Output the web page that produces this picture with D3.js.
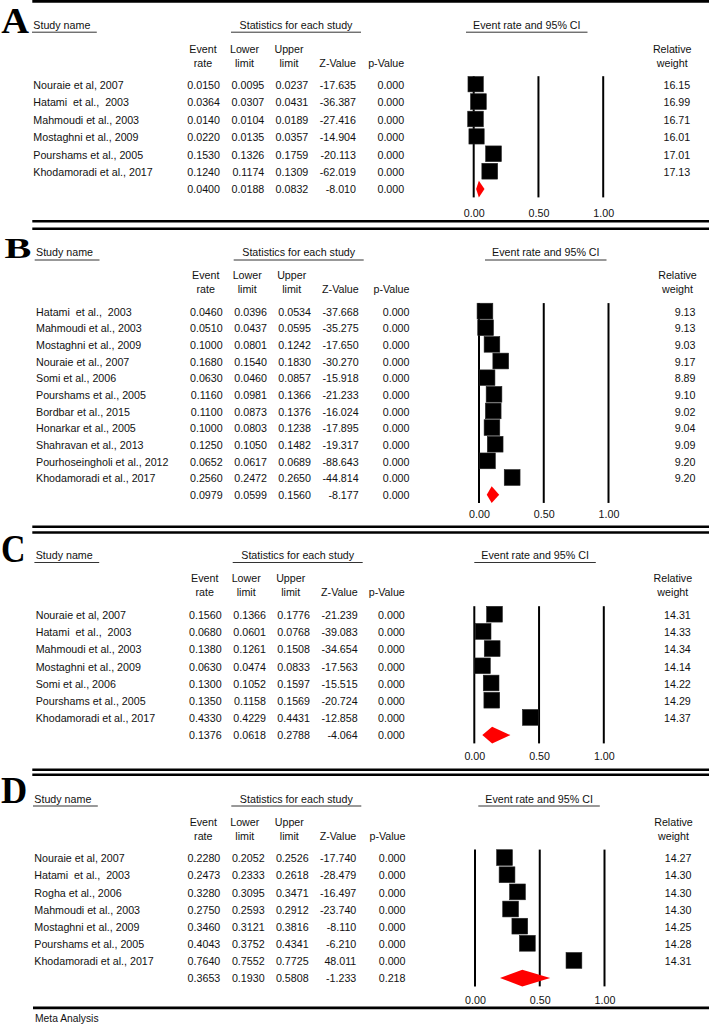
<!DOCTYPE html>
<html><head><meta charset="utf-8">
<script src="https://cdn.jsdelivr.net/npm/d3@7"></script>
<style>
html,body{margin:0;padding:0;background:#fff;}
svg{display:block;}
text{font-family:"Liberation Sans",Arial,sans-serif;font-size:10.7px;fill:#111;white-space:pre;}
</style></head>
<body>
<svg id="chart" width="709" height="1026"></svg>
<script>
// ---------- DATA ----------
const panelLetters = ["A","B","C","D"];
const headerLabels = ["Study name","Statistics for each study","Event rate and 95% CI"];
const colHeaders1 = ["Event","Lower","Upper","",""];
const colHeaders2 = ["rate","limit","limit","Z-Value","p-Value"];
const weightHeader = ["Relative","weight"];
const axisTicks = [0, 0.5, 1.0];
const footerLabel = "Meta Analysis";

const studiesA = ["Nouraie et al, 2007","Hatami  et al.,  2003","Mahmoudi et al., 2003","Mostaghni et al., 2009","Pourshams et al., 2005","Khodamoradi et al., 2017"];
const eventA  = [0.0150,0.0364,0.0140,0.0220,0.1530,0.1240];
const lowerA  = [0.0095,0.0307,0.0104,0.0135,0.1326,0.1174];
const upperA  = [0.0237,0.0431,0.0189,0.0357,0.1759,0.1309];
const zA      = [-17.635,-36.387,-27.416,-14.904,-20.113,-62.019];
const pA      = [0,0,0,0,0,0];
const weightA = [16.15,16.99,16.71,16.01,17.01,17.13];
const summaryA = [0.0400,0.0188,0.0832,-8.010,0.000];

const studiesB = ["Hatami  et al.,  2003","Mahmoudi et al., 2003","Mostaghni et al., 2009","Nouraie et al., 2007","Somi et al., 2006","Pourshams et al., 2005","Bordbar et al., 2015","Honarkar et al., 2005","Shahravan et al., 2013","Pourhoseingholi et al., 2012","Khodamoradi et al., 2017"];
const eventB  = [0.0460,0.0510,0.1000,0.1680,0.0630,0.1160,0.1100,0.1000,0.1250,0.0652,0.2560];
const lowerB  = [0.0396,0.0437,0.0801,0.1540,0.0460,0.0981,0.0873,0.0803,0.1050,0.0617,0.2472];
const upperB  = [0.0534,0.0595,0.1242,0.1830,0.0857,0.1366,0.1376,0.1238,0.1482,0.0689,0.2650];
const zB      = [-37.668,-35.275,-17.650,-30.270,-15.918,-21.233,-16.024,-17.895,-19.317,-88.643,-44.814];
const pB      = [0,0,0,0,0,0,0,0,0,0,0];
const weightB = [9.13,9.13,9.03,9.17,8.89,9.10,9.02,9.04,9.09,9.20,9.20];
const summaryB = [0.0979,0.0599,0.1560,-8.177,0.000];

const studiesC = ["Nouraie et al, 2007","Hatami  et al.,  2003","Mahmoudi et al., 2003","Mostaghni et al., 2009","Somi et al., 2006","Pourshams et al., 2005","Khodamoradi et al., 2017"];
const eventC  = [0.1560,0.0680,0.1380,0.0630,0.1300,0.1350,0.4330];
const lowerC  = [0.1366,0.0601,0.1261,0.0474,0.1052,0.1158,0.4229];
const upperC  = [0.1776,0.0768,0.1508,0.0833,0.1597,0.1569,0.4431];
const zC      = [-21.239,-39.083,-34.654,-17.563,-15.515,-20.724,-12.858];
const pC      = [0,0,0,0,0,0,0];
const weightC = [14.31,14.33,14.34,14.14,14.22,14.29,14.37];
const summaryC = [0.1376,0.0618,0.2788,-4.064,0.000];

const studiesD = ["Nouraie et al, 2007","Hatami  et al.,  2003","Rogha et al., 2006","Mahmoudi et al., 2003","Mostaghni et al., 2009","Pourshams et al., 2005","Khodamoradi et al., 2017"];
const eventD  = [0.2280,0.2473,0.3280,0.2750,0.3460,0.4043,0.7640];
const lowerD  = [0.2052,0.2333,0.3095,0.2593,0.3121,0.3752,0.7552];
const upperD  = [0.2526,0.2618,0.3471,0.2912,0.3816,0.4341,0.7725];
const zD      = [-17.740,-28.479,-16.497,-23.740,-8.110,-6.210,48.011];
const pD      = [0,0,0,0,0,0,0];
const weightD = [14.27,14.30,14.30,14.30,14.25,14.28,14.31];
const summaryD = [0.3653,0.1930,0.5808,-1.233,0.218];

// ---------- LAYOUT ----------
const panels = [
  {letter:panelLetters[0], studies:studiesA, ev:eventA, lo:lowerA, up:upperA, z:zA, p:pA, w:weightA, sum:summaryA,
   lines:[[1.4,2.8]], letterX:1.2, letterBase:32.6, letterSize:36.3, letterSX:1.06,
   titleBase:28.8, ulY:32.2, h1:53, h2:66.6, row0:85, step:17.4, axisBase:216.7,
   nameX:33.3, evR:220, zero:473.7, eciX:466},
  {letter:panelLetters[1], studies:studiesB, ev:eventB, lo:lowerB, up:upperB, z:zB, p:pB, w:weightB, sum:summaryB,
   lines:[[221.3,2.6],[228.7,2.6]], letterX:4.5, letterBase:258.3, letterSize:30.5, letterSX:1.32,
   titleBase:256, ulY:260, h1:279, h2:293.3, row0:311.9, step:16.64, axisBase:518.3,
   nameX:36, evR:222.7, zero:479, eciX:485},
  {letter:panelLetters[2], studies:studiesC, ev:eventC, lo:lowerC, up:upperC, z:zC, p:pC, w:weightC, sum:summaryC,
   lines:[[526.7,2.6],[532.5,2.6]], letterX:1.0, letterBase:562.3, letterSize:39.5, letterSX:0.86,
   titleBase:559.2, ulY:562.5, h1:581.7, h2:596, row0:615, step:17.2, axisBase:760,
   nameX:35.7, evR:221.7, zero:474.3, eciX:474.3},
  {letter:panelLetters[3], studies:studiesD, ev:eventD, lo:lowerD, up:upperD, z:zD, p:pD, w:weightD, sum:summaryD,
   lines:[[769.7,2.6],[774.7,2.6]], letterX:1.0, letterBase:803.3, letterSize:37.5, letterSX:0.97,
   titleBase:802.6, ulY:806, h1:825.7, h2:840, row0:858.4, step:17.14, axisBase:1004,
   nameX:34.3, evR:220.3, zero:475, eciX:478.3}
];

const svg = d3.select("#chart");
const loc = d3.formatLocale({decimal:".", thousands:",", grouping:[3], currency:["",""], minus:"-"});
const f4 = loc.format(".4f"), f3 = loc.format(".3f"), f2 = loc.format(".2f");
const unit = 129.5;

panels.forEach(P => {
  const g = svg.append("g");
  const n = P.studies.length;
  const x = d3.scaleLinear().domain([0,1]).range([P.zero, P.zero+unit]);
  const y = d3.scaleLinear().domain([0,n]).range([P.row0, P.row0 + n*P.step]);

  // top rules
  P.lines.forEach(([ly,lw]) => {
    g.append("line").attr("x1",32.3).attr("x2",709).attr("y1",ly).attr("y2",ly)
      .attr("stroke","#000").attr("stroke-width",lw);
  });

  // panel letter
  g.append("text").text(P.letter)
    .attr("transform",`translate(${P.letterX},${P.letterBase}) scale(${P.letterSX},1)`)
    .style("font-family","'Liberation Serif','Times New Roman',serif")
    .style("font-weight","bold").style("font-size",P.letterSize+"px").style("fill","#000");

  // section headers with underlines
  g.append("text").attr("x",P.nameX).attr("y",P.titleBase).text(headerLabels[0]);
  g.append("line").attr("x1",P.nameX-1.3).attr("x2",P.nameX+63.5).attr("y1",P.ulY).attr("y2",P.ulY)
    .attr("stroke","#333").attr("stroke-width",1);
  const sX0 = P.evR+11, sX1 = P.evR+141;
  g.append("text").attr("x",(sX0+sX1)/2).attr("y",P.titleBase).attr("text-anchor","middle").text(headerLabels[1]);
  g.append("line").attr("x1",sX0).attr("x2",sX1).attr("y1",P.ulY).attr("y2",P.ulY)
    .attr("stroke","#333").attr("stroke-width",1);
  g.append("text").attr("x",P.eciX+60.8).attr("y",P.titleBase).attr("text-anchor","middle").text(headerLabels[2]);
  g.append("line").attr("x1",P.eciX).attr("x2",P.eciX+121.5).attr("y1",P.ulY).attr("y2",P.ulY)
    .attr("stroke","#333").attr("stroke-width",1);

  // column positions
  const colR = [P.evR, P.evR+44.3, P.evR+88.3, P.evR+136, P.zero-69.5];
  const colC = [P.evR-17, P.evR+24.5, P.evR+69, P.evR+116.3, P.zero-88.7];
  const wR = P.zero+216.5, wC = P.zero+198.5;

  colHeaders1.forEach((t,i) => { if (t) g.append("text").attr("x",colC[i]).attr("y",P.h1).attr("text-anchor","middle").text(t); });
  colHeaders2.forEach((t,i) => {
    const right = i >= 3;
    g.append("text").attr("x", right ? colR[i] : colC[i]).attr("y",P.h2)
      .attr("text-anchor", right ? "end" : "middle").text(t);
  });
  g.append("text").attr("x",wC).attr("y",P.h1).attr("text-anchor","middle").text(weightHeader[0]);
  g.append("text").attr("x",wC).attr("y",P.h2).attr("text-anchor","middle").text(weightHeader[1]);

  // rows
  const rows = P.studies.map((s,i) => ({name:s, vals:[f4(P.ev[i]),f4(P.lo[i]),f4(P.up[i]),f3(P.z[i]),f3(P.p[i])], w:P.w[i], ev:P.ev[i], i}));
  rows.forEach(r => {
    const by = y(r.i) + 3.9;
    g.append("text").attr("x",P.nameX).attr("y",by).text(r.name);
    r.vals.forEach((v,k) => g.append("text").attr("x",colR[k]).attr("y",by).attr("text-anchor","end").text(v));
    g.append("text").attr("x",wR).attr("y",by).attr("text-anchor","end").text(f2(r.w));
  });
  // summary row values
  const sby = y(n) + 3.9;
  [f4(P.sum[0]),f4(P.sum[1]),f4(P.sum[2]),f3(P.sum[3]),f3(P.sum[4])].forEach((v,k) =>
    g.append("text").attr("x",colR[k]).attr("y",sby).attr("text-anchor","end").text(v));

  // reference lines
  axisTicks.forEach(t => {
    g.append("line").attr("x1",x(t)).attr("x2",x(t)).attr("y1",P.row0-8.8).attr("y2",y(n)+8)
      .attr("stroke","#000").attr("stroke-width",2);
  });

  // squares
  const maxW = d3.max(P.w);
  const size = d3.scaleSqrt().domain([0,maxW]).range([0,15.8]);
  g.selectAll("rect.sq").data(rows).join("rect").attr("class","sq")
    .attr("x",d => x(d.ev) - size(d.w)/2).attr("y",d => y(d.i) - 0.8 - size(d.w)/2)
    .attr("width",d => size(d.w)).attr("height",d => size(d.w))
    .attr("fill","#000").attr("stroke","#222").attr("stroke-width",0.6);

  // diamond
  const cy = y(n) - 0.3, hh = 8.3;
  g.append("path")
    .attr("d",`M${x(P.sum[1])},${cy} L${x(P.sum[0])},${cy-hh} L${x(P.sum[2])},${cy} L${x(P.sum[0])},${cy+hh} Z`)
    .attr("fill","#ff0000");

  // axis
  const ax = g.append("g").attr("transform",`translate(0,${P.axisBase})`)
    .call(d3.axisBottom(x).tickValues(axisTicks).tickFormat(loc.format(".2f")).tickSize(0));
  ax.select(".domain").remove();
  ax.selectAll("text").attr("y",0).attr("dy",0)
    .style("font-family","'Liberation Sans',Arial,sans-serif").style("font-size","10.7px").attr("fill","#111");
});

// bottom rule & footer
svg.append("line").attr("x1",33).attr("x2",709).attr("y1",1007.8).attr("y2",1007.8).attr("stroke","#000").attr("stroke-width",2.8);
svg.append("text").attr("x",35).attr("y",1022).text(footerLabel).style("font-size","10.3px");
</script>
</body></html>
